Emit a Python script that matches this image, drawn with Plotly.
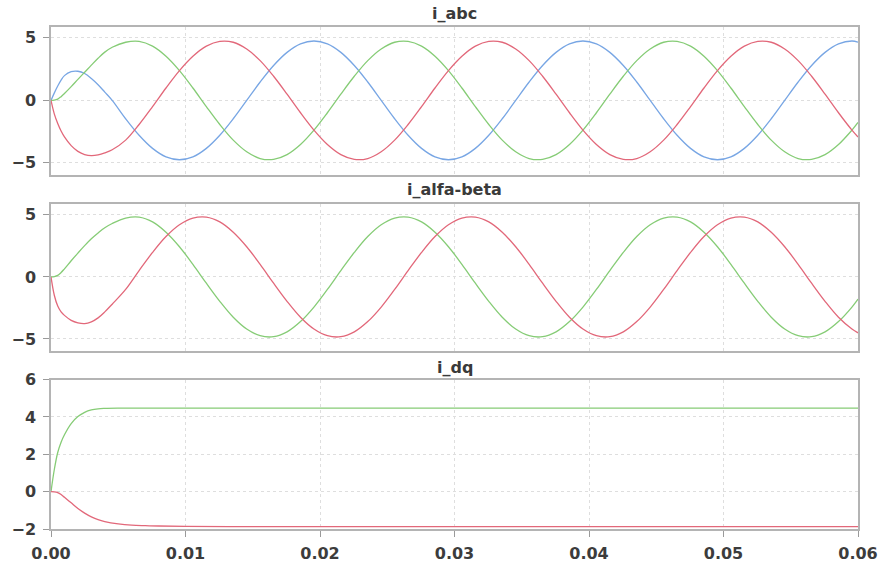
import plotly.graph_objects as go

# ---------------- data (time in seconds) ----------------
t_abc = [0.0, 0.00025, 0.0005, 0.00075, 0.001, 0.0015, 0.002, 0.0025, 0.003, 0.0035, 0.004,
         0.00455, 0.00555, 0.00655, 0.00755, 0.00855, 0.00955, 0.01055, 0.01155, 0.01255, 0.01355,
         0.01455, 0.01555, 0.01655, 0.01755, 0.01855,
         0.01955, 0.02055, 0.02155, 0.02255, 0.02355, 0.02455, 0.02555, 0.02655, 0.02755, 0.02855,
         0.02955, 0.03055, 0.03155, 0.03255, 0.03355, 0.03455, 0.03555, 0.03655, 0.03755, 0.03855,
         0.03955, 0.04055, 0.04155, 0.04255, 0.04355, 0.04455, 0.04555, 0.04655, 0.04755, 0.04855,
         0.04955, 0.05055, 0.05155, 0.05255, 0.05355, 0.05455, 0.05555, 0.05655, 0.05755, 0.05855,
         0.05955, 0.06]

ia_red = [0, -1.1, -1.85, -2.45, -2.92, -3.62, -4.08, -4.33, -4.42, -4.36, -4.2,
          -3.95, -3.18, -1.93, -0.50, 0.99, 2.38, 3.53, 4.34, 4.72, 4.65, 4.11, 3.18, 1.93, 0.50, -0.99,
          -2.38, -3.53, -4.34, -4.72, -4.65, -4.11, -3.18, -1.93, -0.50, 0.99,
          2.38, 3.53, 4.34, 4.72, 4.65, 4.11, 3.18, 1.93, 0.50, -0.99,
          -2.38, -3.53, -4.34, -4.72, -4.65, -4.11, -3.18, -1.93, -0.50, 0.99,
          2.38, 3.53, 4.34, 4.72, 4.65, 4.11, 3.18, 1.93, 0.50, -0.99,
          -2.38, -2.93]

ib_green = [0, 0.02, 0.1, 0.3, 0.55, 1.1, 1.68, 2.25, 2.82, 3.37, 3.86,
            4.25, 4.65, 4.72, 4.34, 3.53, 2.38, 0.99, -0.50, -1.93, -3.18, -4.11, -4.65, -4.72, -4.34, -3.53,
            -2.38, -0.99, 0.50, 1.93, 3.18, 4.11, 4.65, 4.72, 4.34, 3.53,
            2.38, 0.99, -0.50, -1.93, -3.18, -4.11, -4.65, -4.72, -4.34, -3.53,
            -2.38, -0.99, 0.50, 1.93, 3.18, 4.11, 4.65, 4.72, 4.34, 3.53,
            2.38, 0.99, -0.50, -1.93, -3.18, -4.11, -4.65, -4.72, -4.34, -3.53,
            -2.38, -1.77]

ic_blue = [0, 0.6, 1.15, 1.62, 1.98, 2.3, 2.33, 2.15, 1.75, 1.25, 0.66,
           0, -1.47, -2.79, -3.84, -4.52, -4.75, -4.52, -3.84, -2.79, -1.47, 0, 1.47, 2.79, 3.84, 4.52,
           4.75, 4.52, 3.84, 2.79, 1.47, 0, -1.47, -2.79, -3.84, -4.52,
           -4.75, -4.52, -3.84, -2.79, -1.47, 0, 1.47, 2.79, 3.84, 4.52,
           4.75, 4.52, 3.84, 2.79, 1.47, 0, -1.47, -2.79, -3.84, -4.52,
           -4.75, -4.52, -3.84, -2.79, -1.47, 0, 1.47, 2.79, 3.84, 4.52,
           4.75, 4.65]

i_alfa = [0, 0.03, 0.12, 0.35, 0.65, 1.3, 1.92, 2.52, 3.07, 3.54, 3.96,
          4.3, 4.74, 4.82, 4.43, 3.60, 2.43, 1.01, -0.51, -1.97, -3.25, -4.20, -4.74, -4.82, -4.43, -3.60,
          -2.43, -1.01, 0.51, 1.97, 3.25, 4.20, 4.74, 4.82, 4.43, 3.60,
          2.43, 1.01, -0.51, -1.97, -3.25, -4.20, -4.74, -4.82, -4.43, -3.60,
          -2.43, -1.01, 0.51, 1.97, 3.25, 4.20, 4.74, 4.82, 4.43, 3.60,
          2.43, 1.01, -0.51, -1.97, -3.25, -4.20, -4.74, -4.82, -4.43, -3.60,
          -2.43, -1.79]

i_beta = [0, -1.5, -2.35, -2.82, -3.1, -3.5, -3.7, -3.76, -3.62, -3.3, -2.82,
          -2.2, -1.01, 0.51, 1.97, 3.25, 4.20, 4.74, 4.82, 4.43, 3.60, 2.43, 1.01, -0.51, -1.97, -3.25,
          -4.20, -4.74, -4.82, -4.43, -3.60, -2.43, -1.01, 0.51, 1.97, 3.25,
          4.20, 4.74, 4.82, 4.43, 3.60, 2.43, 1.01, -0.51, -1.97, -3.25,
          -4.20, -4.74, -4.82, -4.43, -3.60, -2.43, -1.01, 0.51, 1.97, 3.25,
          4.20, 4.74, 4.82, 4.43, 3.60, 2.43, 1.01, -0.51, -1.97, -3.25,
          -4.20, -4.51]

t_dq = [0.0, 0.00025, 0.0005, 0.00075, 0.001, 0.0015, 0.002, 0.0025, 0.003, 0.0035, 0.004,
        0.005, 0.006, 0.007, 0.008, 0.010, 0.015, 0.020, 0.030, 0.040, 0.050, 0.060]
i_d = [0, 1.2, 2.1, 2.65, 3.05, 3.65, 4.02, 4.25, 4.38, 4.44, 4.46,
       4.47, 4.47, 4.47, 4.47, 4.47, 4.47, 4.47, 4.47, 4.47, 4.47, 4.47]
i_q = [0, -0.01, -0.05, -0.15, -0.3, -0.6, -0.9, -1.15, -1.35, -1.5, -1.6,
       -1.72, -1.79, -1.82, -1.84, -1.86, -1.87, -1.87, -1.87, -1.87, -1.87, -1.87]

titles = ["i_abc", "i_alfa-beta", "i_dq"]
x_ticks = [0.00, 0.01, 0.02, 0.03, 0.04, 0.05, 0.06]
y_ticks_ab = [-5, 0, 5]
y_ticks_dq = [-2, 0, 2, 4, 6]

RED = "#e2687a"
GREEN = "#86cc76"
BLUE = "#78a6e4"
LW = 1.3

fig = go.Figure()

def line(x, y, color, xa, ya):
    fig.add_trace(go.Scatter(x=x, y=y, mode="lines", xaxis=xa, yaxis=ya,
                             line=dict(color=color, width=LW, shape="spline", smoothing=1.0),
                             showlegend=False, hoverinfo="skip"))

line(t_abc, ic_blue, BLUE, "x", "y")
line(t_abc, ib_green, GREEN, "x", "y")
line(t_abc, ia_red, RED, "x", "y")
line(t_abc, i_alfa, GREEN, "x2", "y2")
line(t_abc, i_beta, RED, "x2", "y2")
line(t_dq, i_d, GREEN, "x3", "y3")
line(t_dq, i_q, RED, "x3", "y3")

tickfont = dict(family="DejaVu Sans", size=16, color="#3c3c3c", weight="bold")
frame = dict(showline=True, linecolor="#b4b4b4", linewidth=1.5, mirror=True,
             showgrid=True, gridcolor="#dedede", griddash="dot", gridwidth=1,
             zeroline=False, tickcolor="#9a9a9a", ticklen=6,
             tickfont=tickfont)

H = 521.0
def dom(top_px, bot_px):
    return [(548 - bot_px) / H, (548 - top_px) / H]

xcommon = dict(range=[0, 0.06], tickvals=x_ticks, **frame)

fig.update_layout(
    width=890, height=575,
    margin=dict(l=51, r=25, t=27, b=27),
    paper_bgcolor="white", plot_bgcolor="white",
    xaxis=dict(domain=[0, 1], anchor="y", showticklabels=False, ticks="", **xcommon),
    xaxis2=dict(domain=[0, 1], anchor="y2", showticklabels=False, ticks="", **xcommon),
    xaxis3=dict(domain=[0, 1], anchor="y3", tickformat=".2f", ticks="outside", ticklabelstandoff=3, **xcommon),
    yaxis=dict(domain=dom(27, 181), anchor="x", range=[-6.0, 5.87], tickvals=y_ticks_ab, ticks="outside", ticklabelstandoff=4, **frame),
    yaxis2=dict(domain=dom(211, 363), anchor="x2", range=[-5.95, 5.85], tickvals=y_ticks_ab, ticks="outside", ticklabelstandoff=4, **frame),
    yaxis3=dict(domain=dom(393, 548), anchor="x3", range=[-2.0, 6.0], tickvals=y_ticks_dq, ticks="outside", ticklabelstandoff=4, **frame),
)

title_py = [13, 196, 380]
for txt, py in zip(titles, title_py):
    fig.add_annotation(text=txt, xref="paper", yref="paper", x=0.5, y=(548 - py) / H,
                       xanchor="center", yanchor="middle", showarrow=False,
                       font=dict(family="DejaVu Sans", size=16, color="#3a3a3a", weight="bold"))

fig.write_html("out.html")
